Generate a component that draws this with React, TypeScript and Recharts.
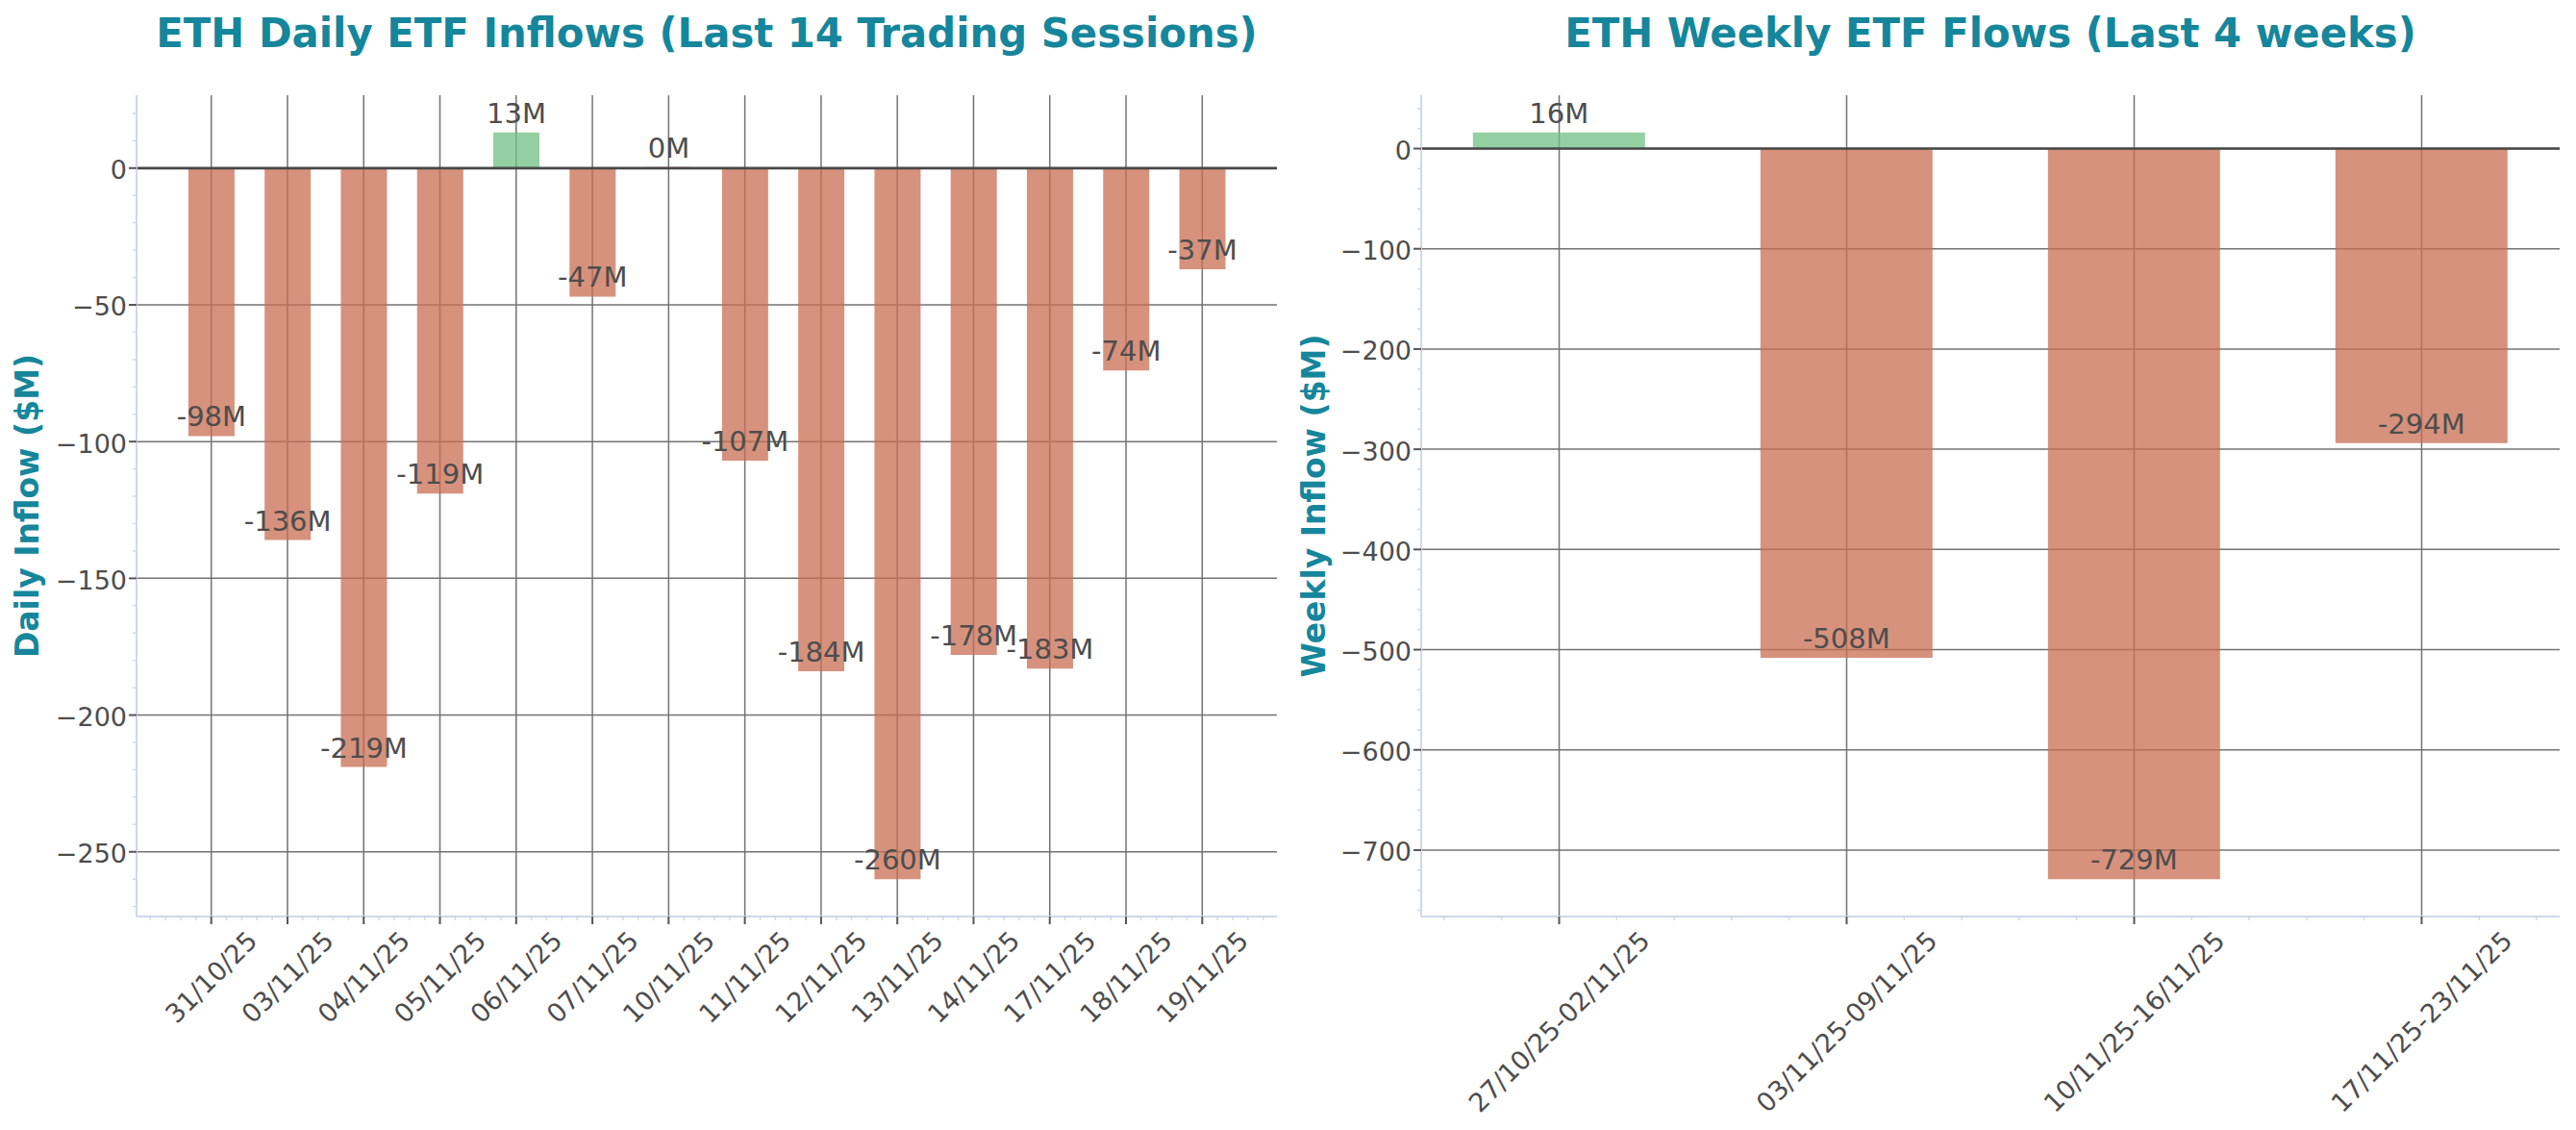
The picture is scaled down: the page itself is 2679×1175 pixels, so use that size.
import React from 'react';
import { BarChart, Bar, XAxis, YAxis, CartesianGrid, ReferenceLine, LabelList, Cell } from 'recharts';

// ---------- data ----------
const dailyDates = [
  '31/10/25', '03/11/25', '04/11/25', '05/11/25', '06/11/25', '07/11/25', '10/11/25',
  '11/11/25', '12/11/25', '13/11/25', '14/11/25', '17/11/25', '18/11/25', '19/11/25',
];
const dailyFlows = [-98, -136, -219, -119, 13, -47, 0, -107, -184, -260, -178, -183, -74, -37];
const dailyYTicks = [0, -50, -100, -150, -200, -250];

const weeklyRanges = ['27/10/25-02/11/25', '03/11/25-09/11/25', '10/11/25-16/11/25', '17/11/25-23/11/25'];
const weeklyFlows = [16, -508, -729, -294];
const weeklyYTicks = [0, -100, -200, -300, -400, -500, -600, -700];

// ---------- style ----------
const FONT = 'DejaVu Sans';
const TEAL = '#15869b';
const TEXT = '#4d4d4d';
const SPINE = '#d0d8e8';
const GRID = '#737373';
const NEG = '#c86d51';
const POS = '#70c082';
const TICK_FS = 27;
const LABEL_FS = 29;
const W = 2679;
const H = 1175;
const PLOT_TOP = 99;
const PLOT_BOTTOM = 953;

const CHAR_W: Record<string, number> = { '/': 0.337, '-': 0.361 };
const textWidth = (s: string, fs: number) =>
  s.split('').reduce((a, c) => a + (CHAR_W[c] ?? 0.636), 0) * fs;

const fmtTick = (v: number) => (v < 0 ? `\u2212${Math.abs(v)}` : `${v}`);

type PanelProps = {
  labels: string[];
  values: number[];
  yTicks: number[];
  yMinorStep: number;
  panelLeft: number;
  panelWidth: number;
  plotLeft: number;
  plotRight: number;
};

const Panel = ({ labels, values, yTicks, yMinorStep, panelLeft, panelWidth, plotLeft, plotRight }: PanelProps) => {
  const n = labels.length;
  const rows = labels.map((l, i) => ({ label: l, idx: i, value: values[i] }));
  const vMin = Math.min(0, ...values);
  const vMax = Math.max(0, ...values);
  const yLo = vMin - 0.05 * (vMax - vMin);
  const yHi = vMax + 0.05 * (vMax - vMin);
  const xm = 0.3 + 0.05 * (n - 1 + 0.6);
  const plotW = plotRight - plotLeft;
  const unit = plotW / (n - 1 + 2 * xm);
  const pad = (xm - 0.5) * unit;

  const yAll: number[] = [];
  for (let k = Math.ceil(yLo / yMinorStep); k <= Math.floor(yHi / yMinorStep); k++) yAll.push(k * yMinorStep);
  const xAll: number[] = [];
  for (let k = Math.ceil(-xm * 5); k <= Math.floor((n - 1 + xm) * 5); k++) xAll.push(k / 5);
  const majorsX = labels.map((_, i) => i);

  const yAxisW = 60;
  const xAxisH = 150;
  const margin = {
    top: PLOT_TOP,
    left: plotLeft - panelLeft - yAxisW,
    right: panelLeft + panelWidth - plotRight,
    bottom: H - PLOT_BOTTOM - xAxisH,
  };

  const YTick = (p: any) => {
    const v = Number(p.payload.value);
    const major = yTicks.includes(v);
    const x = p.x;
    const y = p.y;
    if (!major) return <line x1={x - 4} x2={x} y1={y} y2={y} stroke={SPINE} strokeWidth={1.5} />;
    return (
      <g>
        <line x1={x - 8} x2={x} y1={y} y2={y} stroke="#555" strokeWidth={2} />
        <text x={x - 10} y={y + 2} textAnchor="end" dominantBaseline="central" fontSize={TICK_FS} fill={TEXT} fontFamily={FONT}>
          {fmtTick(v)}
        </text>
      </g>
    );
  };

  const XTick = (p: any) => {
    const v = Number(p.payload.value);
    const x = p.x;
    const y = p.y;
    const ri = Math.round(v);
    const major = Math.abs(v - ri) < 1e-6 && ri >= 0 && ri < n;
    if (!major) return <line x1={x} x2={x} y1={y} y2={y + 4} stroke={SPINE} strokeWidth={1.5} />;
    const label = labels[ri];
    const w = textWidth(label, TICK_FS);
    const h = 1.17 * TICK_FS;
    const cy = y + 9 + (w + h) / (2 * Math.SQRT2);
    return (
      <g>
        <line x1={x} x2={x} y1={y} y2={y + 8} stroke="#555" strokeWidth={2} />
        <text x={x} y={cy} textAnchor="middle" dominantBaseline="central" fontSize={TICK_FS} fill={TEXT}
          fontFamily={FONT} transform={`rotate(-45 ${x} ${cy})`}>
          {label}
        </text>
      </g>
    );
  };

  const ValueLabel = (p: any) => {
    const vb = p.viewBox ?? p;
    const { x, y, width, height } = vb;
    const v = Number(p.value);
    const yEnd = v < 0 ? Math.max(y, y + height) : Math.min(y, y + height);
    return (
      <text x={x + width / 2} y={yEnd - 10} textAnchor="middle" fontSize={LABEL_FS} fill={TEXT} fontFamily={FONT}>
        {`${v}M`}
      </text>
    );
  };

  return (
    <div style={{ position: 'absolute', left: panelLeft, top: 0, width: panelWidth, height: H }}>
      <BarChart width={panelWidth} height={H} data={rows} margin={margin} barCategoryGap="20%">
        <XAxis xAxisId="cat" dataKey="label" hide height={0} padding={{ left: pad, right: pad }} />
        <XAxis
          xAxisId="num"
          type="number"
          dataKey="idx"
          domain={[-xm, n - 1 + xm]}
          allowDataOverflow
          ticks={xAll}
          interval={0}
          tickLine={false}
          tickSize={0}
          tickMargin={0}
          tick={<XTick />}
          axisLine={{ stroke: SPINE, strokeWidth: 2 }}
          height={xAxisH}
        />
        <YAxis
          yAxisId="main"
          type="number"
          domain={[yLo, yHi]}
          allowDataOverflow
          ticks={yAll}
          interval={0}
          tickLine={false}
          tickSize={0}
          tickMargin={0}
          tick={<YTick />}
          axisLine={{ stroke: SPINE, strokeWidth: 2 }}
          width={yAxisW}
        />
        <CartesianGrid
          xAxisId="num"
          yAxisId="main"
          horizontalValues={yTicks}
          verticalValues={majorsX}
          stroke={GRID}
          strokeWidth={1.5}
        />
        <Bar xAxisId="cat" yAxisId="main" dataKey="value" isAnimationActive={false} fillOpacity={0.75} minPointSize={1}>
          {rows.map((r, i) => (
            <Cell key={i} fill={r.value > 0 ? POS : NEG} />
          ))}
          <LabelList dataKey="value" content={<ValueLabel />} />
        </Bar>
        <ReferenceLine xAxisId="cat" yAxisId="main" y={0} stroke="#474747" strokeWidth={2.7} />
      </BarChart>
    </div>
  );
};

export default function App() {
  const leftPlot = [142, 1328];
  const rightPlot = [1478, 2662];
  const split = 1336;
  return (
    <div style={{ position: 'absolute', left: 0, top: 0, width: W, height: H, background: '#fff' }}>
      <Panel
        labels={dailyDates}
        values={dailyFlows}
        yTicks={dailyYTicks}
        yMinorStep={10}
        panelLeft={0}
        panelWidth={split}
        plotLeft={leftPlot[0]}
        plotRight={leftPlot[1]}
      />
      <Panel
        labels={weeklyRanges}
        values={weeklyFlows}
        yTicks={weeklyYTicks}
        yMinorStep={20}
        panelLeft={split}
        panelWidth={W - split}
        plotLeft={rightPlot[0]}
        plotRight={rightPlot[1]}
      />
      <svg width={W} height={H} style={{ position: 'absolute', left: 0, top: 0, pointerEvents: 'none' }}>
        <text x={(leftPlot[0] + leftPlot[1]) / 2} y={49} textAnchor="middle" fontSize={41.8} fontWeight="bold" fill={TEAL} fontFamily={FONT}>
          ETH Daily ETF Inflows (Last 14 Trading Sessions)
        </text>
        <text x={(rightPlot[0] + rightPlot[1]) / 2} y={49} textAnchor="middle" fontSize={41.8} fontWeight="bold" fill={TEAL} fontFamily={FONT}>
          ETH Weekly ETF Flows (Last 4 weeks)
        </text>
        <text x={28} y={(PLOT_TOP + PLOT_BOTTOM) / 2} textAnchor="middle" dominantBaseline="central" fontSize={33} fontWeight="bold"
          fill={TEAL} fontFamily={FONT} transform={`rotate(-90 28 ${(PLOT_TOP + PLOT_BOTTOM) / 2})`}>
          Daily Inflow ($M)
        </text>
        <text x={1366} y={(PLOT_TOP + PLOT_BOTTOM) / 2} textAnchor="middle" dominantBaseline="central" fontSize={33} fontWeight="bold"
          fill={TEAL} fontFamily={FONT} transform={`rotate(-90 1366 ${(PLOT_TOP + PLOT_BOTTOM) / 2})`}>
          Weekly Inflow ($M)
        </text>
      </svg>
    </div>
  );
}
